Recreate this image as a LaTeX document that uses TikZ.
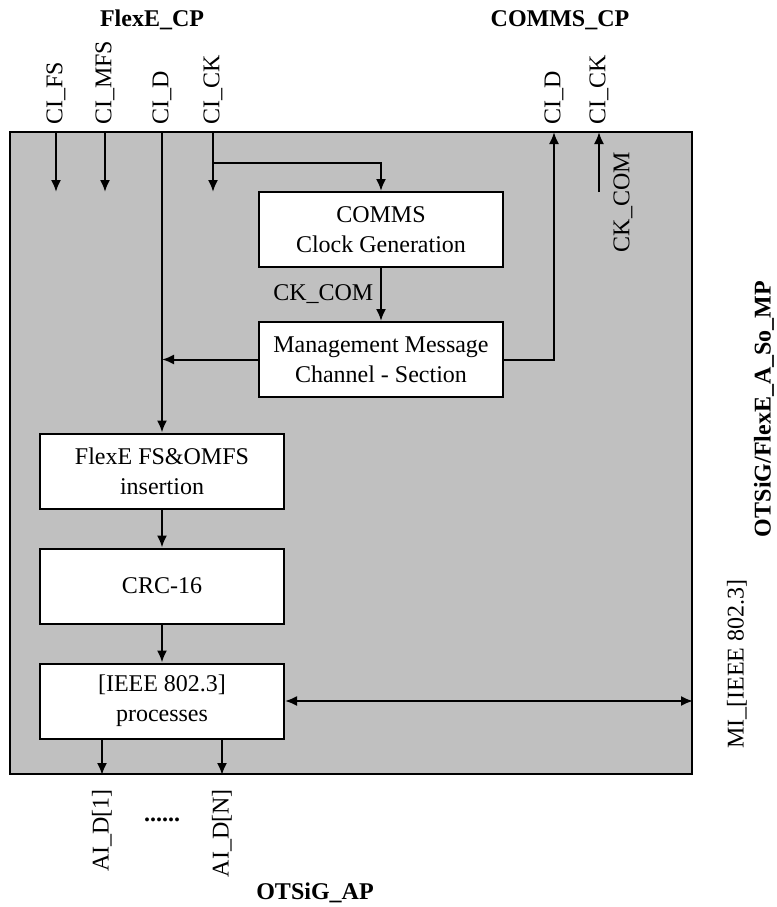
\documentclass[tikz,border=0pt]{standalone}
\usepackage{fontspec}
\setmainfont{Liberation Serif}
\usepackage{tikz}
\usetikzlibrary{positioning}
\usetikzlibrary{arrows.meta}
\definecolor{boxgray}{RGB}{192,192,192}
\tikzstyle{mynode}=[align=center]
\tikzstyle{process}=[mynode, rectangle, draw, fill=white, line width=1pt, minimum width=122pt, minimum height=37.5pt]
\tikzstyle{signal}=[mynode, rotate=90]
\tikzstyle{title}=[mynode, font=\fontsize{12}{15}\selectfont\bfseries]
\tikzstyle{connect arrow}=[-{Latex[length=6pt,width=5pt]}, line width=1pt]

\begin{document}
\begin{tikzpicture}[
    x=0.5pt, y=-0.5pt,
    font=\fontsize{12}{15}\selectfont]

\useasboundingbox (0,0) rectangle (777,907);

\node[draw, fill=boxgray, line width=1pt, inner sep=0pt, minimum width=341pt, minimum height=321pt] (adapt) at (351,453) {};

\node[process] (clockgen) at (381,229.5) {COMMS\\Clock Generation};
\node[process] (mmc) [below=26.5pt of clockgen] {Management Message\\Channel - Section};
\node[process] (flexe) at (162,471) {FlexE FS\&OMFS\\insertion};
\node[process] (crc) [below=19pt of flexe] {CRC-16};
\node[process] (ieee) [below=19pt of crc] {[IEEE 802.3]\\processes};

% titles
\node[title] (flexecp) at (152,20) {FlexE\_CP};
\node[title] (commscp) at (560,20) {COMMS\_CP};
\node[title] (otsigap) at (315,893) {OTSiG\_AP};
\node[title, rotate=90] (mp) at (764,409) {OTSiG/FlexE\_A\_So\_MP};

% signals on the box edges
\node[signal, anchor=west] (cifs) at (56,132) {CI\_FS};
\node[signal, anchor=west] (cimfs) at (105,132) {CI\_MFS};
\node[signal, anchor=west] (cid) at (162,132) {CI\_D};
\node[signal, anchor=west] (cick) at (213,132) {CI\_CK};
\node[signal, anchor=west] (ccid) at (554,132) {CI\_D};
\node[signal, anchor=west] (ccick) at (599,132) {CI\_CK};
\node[signal] (ckcom) at (623,202) {CK\_COM};
\node[signal] (mi) at (737,664) {MI\_[IEEE 802.3]};
\node[signal, anchor=east] (aid1) at (102,782) {AI\_D[1]};
\node[signal, anchor=east] (aidn) at (222,782) {AI\_D[N]};
\node[mynode] (dots) at (162,820) {\textbf{......}};

\coordinate (cifs in) at (56,192);
\coordinate (cimfs in) at (105,192);
\coordinate (cick in) at (213,192);
\coordinate (ck branch) at (213,163);
\coordinate (ckcom start) at (599,192);

\begin{scope}[connect arrow]
    \draw (cifs.west) -- (cifs in);
    \draw (cimfs.west) -- (cimfs in);
    \draw (cick.west) -- (cick in);
    \draw (ck branch) -| (clockgen.north);
    \draw (cid.west) -- (flexe.north);

    \draw (clockgen) -- node[left] {CK\_COM} (mmc);
    \draw (mmc.west) -- (mmc.west -| cid.west);
    \draw (mmc.east) -| (ccid.west);
    \draw (ckcom start) -- (ccick.west);

    \draw (flexe) -- (crc);
    \draw (crc) -- (ieee);
    \draw[{Latex[length=6pt,width=5pt]}-{Latex[length=6pt,width=5pt]}] (ieee.east) -- (ieee.east -| adapt.east);

    \draw (aid1.east |- ieee.south) -- (aid1.east |- adapt.south);
    \draw (aidn.east |- ieee.south) -- (aidn.east |- adapt.south);
\end{scope}

\end{tikzpicture}
\end{document}
